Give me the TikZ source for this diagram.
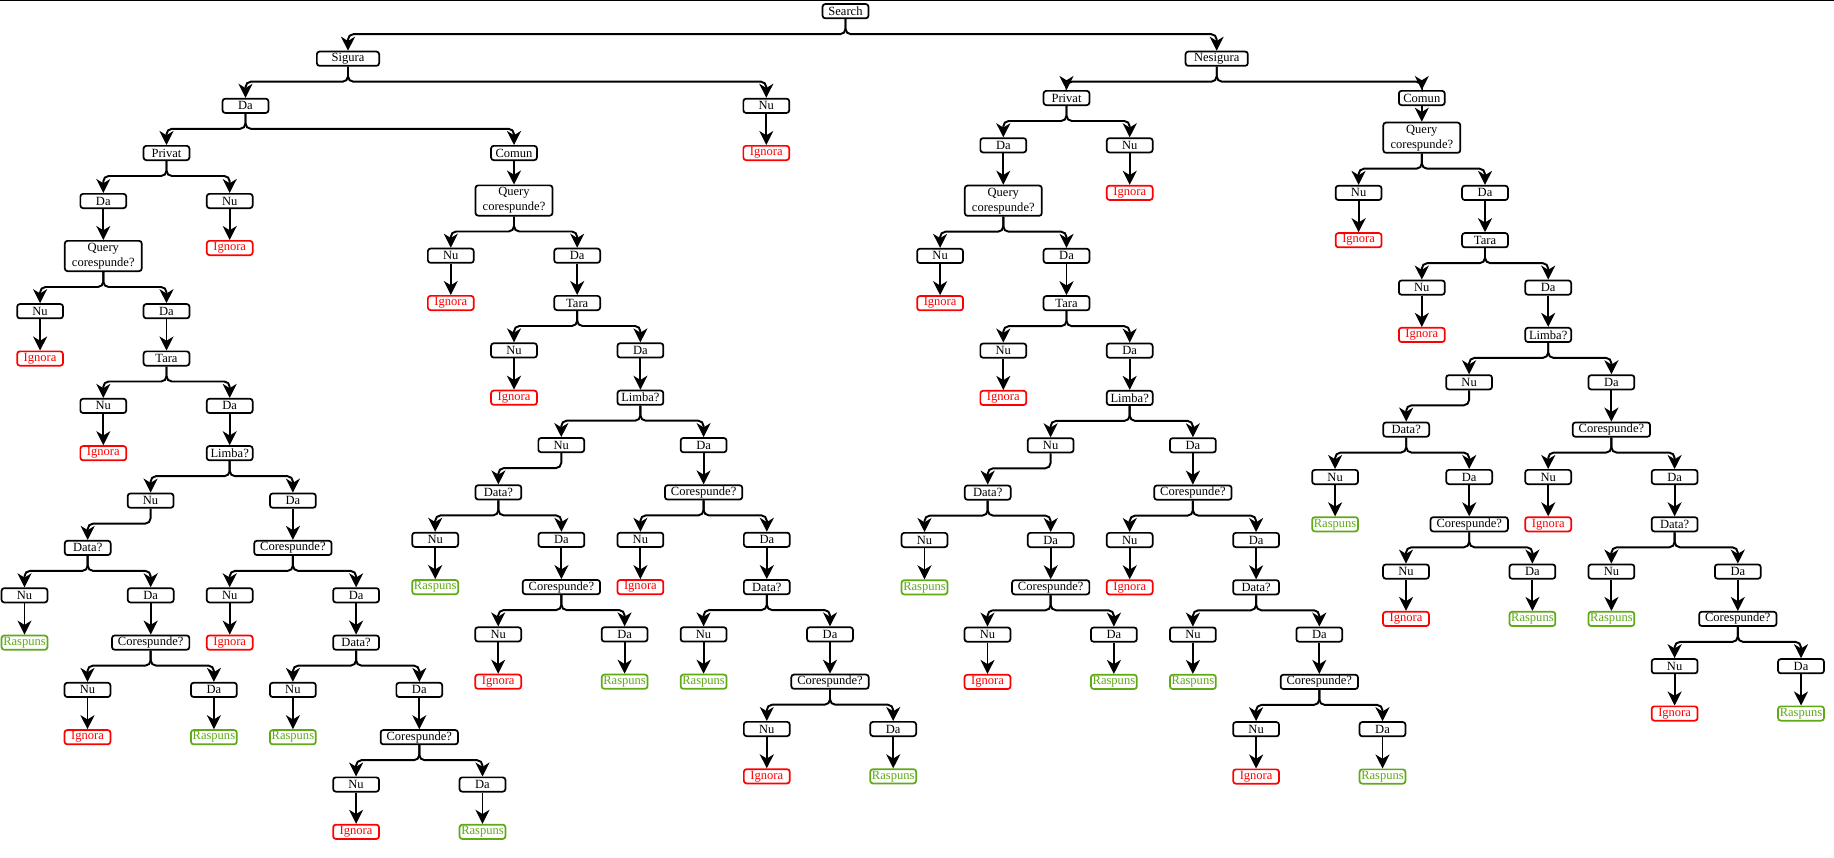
\documentclass[tikz,border=0pt]{standalone}
\usepackage{fontspec}
\setmainfont{Liberation Serif}
\usetikzlibrary{arrows.meta}

\definecolor{ignorared}{HTML}{FF0000}
\definecolor{raspunsgreen}{HTML}{60A917}

% one "Query corespunde?" block, #1 = name prefix, (#2, #3) = its centre, #4 = x of the first Nu under Data?
\newcommand{\querytree}[4]{%
	\begin{scope}[shift = {(#2, #3)}]
		\node [query] (#1q) at (0, 0) {Query\\corespunde?};
		\node [box] (#1qn) at (-63.2, 55.2) {Nu};
		\node [ignora] (#1qni) at (-63.2, 102.5) {Ignora};
		\node [box] (#1qd) at (63.2, 55.2) {Da};
		\node [box] (#1t) at (63.2, 102.5) {Tara};
		\node [box] (#1tn) at (0, 149.9) {Nu};
		\node [ignora] (#1tni) at (0, 197.2) {Ignora};
		\node [box] (#1td) at (126.4, 149.9) {Da};
		\node [box] (#1l) at (126.4, 197.2) {Limba?};
		\node [box] (#1ln) at (47.3, 244.6) {Nu};
		\node [box] (#1ld) at (189.6, 244.6) {Da};
		\node [box] (#1d) at (-15.6, 291.9) {Data?};
		\node [coresp] (#1c) at (189.6, 291.9) {Corespunde?};
		\node [box] (#1dn) at (#4, 339.3) {Nu};
		\node [raspuns] (#1dnr) at (#4, 386.6) {Raspuns};
		\node [box] (#1dd) at (47.4, 339.3) {Da};
		\node [coresp] (#1dc) at (47.4, 386.6) {Corespunde?};
		\node [box] (#1dcn) at (-15.8, 433.9) {Nu};
		\node [ignora] (#1dcni) at (-15.8, 481.2) {Ignora};
		\node [box] (#1dcd) at (110.6, 433.9) {Da};
		\node [raspuns] (#1dcdr) at (110.6, 481.2) {Raspuns};
		\node [box] (#1cn) at (126.4, 339.3) {Nu};
		\node [ignora] (#1cni) at (126.4, 386.6) {Ignora};
		\node [box] (#1cd) at (252.8, 339.3) {Da};
		\node [box] (#1cdt) at (252.8, 386.6) {Data?};
		\node [box] (#1cdtn) at (189.6, 433.9) {Nu};
		\node [raspuns] (#1cdtnr) at (189.6, 481.2) {Raspuns};
		\node [box] (#1cdtd) at (316, 433.9) {Da};
		\node [coresp] (#1cdtc) at (316, 481.2) {Corespunde?};
		\node [box] (#1cdtcn) at (252.8, 528.5) {Nu};
		\node [ignora] (#1cdtcni) at (252.8, 575.8) {Ignora};
		\node [box] (#1cdtcd) at (379.2, 528.5) {Da};
		\node [raspuns] (#1cdtcdr) at (379.2, 575.8) {Raspuns};
	\end{scope}
	\draw [branch] (#1q.south) -- ++(0, 15) -| (#1qn.north);
	\draw [branch] (#1q.south) -- ++(0, 15) -| (#1qd.north);
	\draw [link] (#1qn) -- (#1qni);
	\draw [link] (#1qd) -- (#1t);
	\draw [branch] (#1t.south) -- ++(0, 15) -| (#1tn.north);
	\draw [branch] (#1t.south) -- ++(0, 15) -| (#1td.north);
	\draw [link] (#1tn) -- (#1tni);
	\draw [link] (#1td) -- (#1l);
	\draw [branch] (#1l.south) -- ++(0, 15) -| (#1ln.north);
	\draw [branch] (#1l.south) -- ++(0, 15) -| (#1ld.north);
	\draw [branch] (#1ln.south) -- ++(0, 15) -| (#1d.north);
	\draw [link] (#1ld) -- (#1c);
	\draw [branch] (#1d.south) -- ++(0, 15) -| (#1dn.north);
	\draw [branch] (#1d.south) -- ++(0, 15) -| (#1dd.north);
	\draw [link] (#1dn) -- (#1dnr);
	\draw [link] (#1dd) -- (#1dc);
	\draw [branch] (#1dc.south) -- ++(0, 15) -| (#1dcn.north);
	\draw [branch] (#1dc.south) -- ++(0, 15) -| (#1dcd.north);
	\draw [link] (#1dcn) -- (#1dcni);
	\draw [link] (#1dcd) -- (#1dcdr);
	\draw [branch] (#1c.south) -- ++(0, 15) -| (#1cn.north);
	\draw [branch] (#1c.south) -- ++(0, 15) -| (#1cd.north);
	\draw [link] (#1cn) -- (#1cni);
	\draw [link] (#1cd) -- (#1cdt);
	\draw [branch] (#1cdt.south) -- ++(0, 15) -| (#1cdtn.north);
	\draw [branch] (#1cdt.south) -- ++(0, 15) -| (#1cdtd.north);
	\draw [link] (#1cdtn) -- (#1cdtnr);
	\draw [link] (#1cdtd) -- (#1cdtc);
	\draw [branch] (#1cdtc.south) -- ++(0, 15) -| (#1cdtcn.north);
	\draw [branch] (#1cdtc.south) -- ++(0, 15) -| (#1cdtcd.north);
	\draw [link] (#1cdtcn) -- (#1cdtcni);
	\draw [link] (#1cdtcd) -- (#1cdtcdr);
}

\begin{document}
\begin{tikzpicture}[x = 0.75pt, y = -0.75pt,
	box/.style = {draw, fill = white, rounded corners = 2pt, line width = 1.3pt, minimum width = 34.4pt, minimum height = 10.7pt, inner sep = 0pt, font = \fontsize{9.4}{11.25}\selectfont},
	wide/.style = {box, minimum width = 46.7pt},
	query/.style = {box, minimum width = 57.7pt, minimum height = 22.7pt, align = center},
	coresp/.style = {box, minimum width = 58pt},
	ignora/.style = {box, draw = ignorared, text = ignorared},
	raspuns/.style = {box, draw = raspunsgreen, text = raspunsgreen},
	link/.style = {line width = 1.45pt, -{Stealth[length = 10.5pt, width = 10.5pt, inset = 3.2pt]}},
	branch/.style = {link, rounded corners = 4pt}]
	\useasboundingbox (0, 0) rectangle (1834, 857);
	\draw [line width = 0.75pt] (0, 0.5) -- (1834, 0.5);

	% top
	\node [box] (search) at (845.5, 11.2) {Search};
	\node [wide] (sigura) at (348, 58.7) {Sigura};
	\node [wide] (nesigura) at (1216.7, 58.7) {Nesigura};
	\draw [branch] (search.south) -- ++(0, 15) -| (sigura.north);
	\draw [branch] (search.south) -- ++(0, 15) -| (nesigura.north);

	% Sigura
	\node [box] (sda) at (245.5, 105.8) {Da};
	\node [box] (snu) at (766.3, 105.8) {Nu};
	\node [ignora] (snui) at (766.3, 153) {Ignora};
	\node [box] (lpriv) at (166.5, 153) {Privat};
	\node [box] (lcomun) at (514, 153) {Comun};
	\node [box] (lpda) at (103.3, 201) {Da};
	\node [box] (lpnu) at (229.7, 201) {Nu};
	\node [ignora] (lpnui) at (229.7, 248) {Ignora};
	\draw [branch] (sigura.south) -- ++(0, 15) -| (sda.north);
	\draw [branch] (sigura.south) -- ++(0, 15) -| (snu.north);
	\draw [link] (snu) -- (snui);
	\draw [branch] (sda.south) -- ++(0, 15) -| (lpriv.north);
	\draw [branch] (sda.south) -- ++(0, 15) -| (lcomun.north);
	\draw [branch] (lpriv.south) -- ++(0, 15) -| (lpda.north);
	\draw [branch] (lpriv.south) -- ++(0, 15) -| (lpnu.north);
	\draw [link] (lpnu) -- (lpnui);
	\querytree{lp}{103.3}{256}{-78.8}
	\querytree{lc}{514}{200.5}{-78.8}
	\draw [link] (lpda) -- (lpq);
	\draw [link] (lcomun) -- (lcq);

	% Nesigura
	\node [box] (rpriv) at (1066.5, 98) {Privat};
	\node [box] (rcomun) at (1421.8, 98) {Comun};
	\node [box] (rpda) at (1003.3, 145.3) {Da};
	\node [box] (rpnu) at (1129.7, 145.3) {Nu};
	\node [ignora] (rpnui) at (1129.7, 192.8) {Ignora};
	\draw [branch] (nesigura.south) -- ++(0, 15) -| (rpriv.north);
	\draw [branch] (nesigura.south) -- ++(0, 15) -| (rcomun.north);
	\draw [branch] (rpriv.south) -- ++(0, 15) -| (rpda.north);
	\draw [branch] (rpriv.south) -- ++(0, 15) -| (rpnu.north);
	\draw [link] (rpnu) -- (rpnui);
	\querytree{rp}{1003.3}{200.7}{-78.8}
	\querytree{rc}{1421.8}{137.7}{-86.7}
	\draw [link] (rpda) -- (rpq);
	\draw [link] (rcomun) -- (rcq);
\end{tikzpicture}
\end{document}
